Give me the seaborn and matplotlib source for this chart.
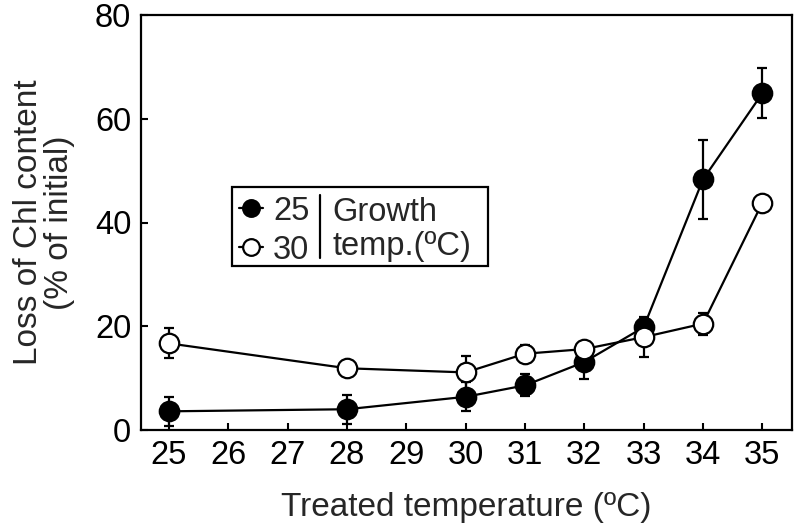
import matplotlib
matplotlib.use("Agg")
import matplotlib.pyplot as plt
import seaborn as sns
import pandas as pd
from matplotlib.lines import Line2D
from matplotlib.patches import Rectangle

# ---- data ----
temps = [25, 28, 30, 31, 32, 33, 34, 35]
growth25 = [3.6, 4.0, 6.4, 8.6, 13.1, 19.8, 48.3, 64.9]
growth25_err = [2.8, 2.8, 2.8, 2.1, 3.2, 1.0, 7.7, 4.8]
growth30 = [16.7, 11.9, 11.1, 14.7, 15.6, 17.9, 20.5, 43.8]
growth30_err = [2.9, 0.8, 3.1, 1.6, 1.4, 3.8, 2.1, 0.5]
xticks = list(range(25, 36))
series_labels = ["25", "30"]

sns.set_theme(style="ticks")
plt.rcParams["font.family"] = ["Liberation Sans", "DejaVu Sans"]

fig = plt.figure(figsize=(7.97, 5.29), dpi=100)
ax = fig.add_axes([141/797, 1-430/529, 651/797, 415/529])

df = pd.DataFrame({
    "temp": temps * 2,
    "loss": growth25 + growth30,
    "err": growth25_err + growth30_err,
    "growth": [series_labels[0]] * len(temps) + [series_labels[1]] * len(temps),
})

face = {"25": "black", "30": "white"}
for g in series_labels:
    sub = df[df["growth"] == g]
    ax.errorbar(sub["temp"], sub["loss"], yerr=sub["err"], fmt="none",
                ecolor="black", elinewidth=1.6, capsize=3.8, capthick=1.6, zorder=2)
    sns.lineplot(data=sub, x="temp", y="loss", ax=ax, color="black",
                 linewidth=1.6, marker="o", markersize=14,
                 markerfacecolor=face[g], markeredgecolor="black",
                 markeredgewidth=1.6, zorder=3, legend=False)

ax.set_xlim(24.53, 35.5)
ax.set_ylim(0, 80)
ax.set_xticks(xticks)
ax.set_yticks([0, 20, 40, 60, 80])
ax.tick_params(direction="in", length=5, width=1.5, labelsize=23.5, pad=7, colors="black")
for side in ["top", "right", "left", "bottom"]:
    ax.spines[side].set_visible(True)
    ax.spines[side].set_linewidth(1.6)
    ax.spines[side].set_color("black")

ax.set_xlabel("Treated temperature (ºC)", fontsize=24, labelpad=15)
ax.set_ylabel("Loss of Chl content\n(% of initial)", fontsize=24, labelpad=14,
              linespacing=1.0)

# legend
handles = [
    Line2D([], [], color="black", lw=1.6, marker="o", markersize=12,
           markerfacecolor="black", markeredgecolor="black", markeredgewidth=1.6),
    Line2D([], [], color="black", lw=1.6, marker="o", markersize=12,
           markerfacecolor="white", markeredgecolor="black", markeredgewidth=1.6),
]
leg = ax.legend(handles, series_labels, loc="center left",
                bbox_to_anchor=(0.150, 0.48), frameon=False, fontsize=23.5,
                handlelength=0.75, handletextpad=0.3, labelspacing=0.25,
                borderpad=0, borderaxespad=0)
ax.add_patch(Rectangle((0.1398, 0.395), 0.533-0.1398, 0.5855-0.395,
                       transform=ax.transAxes, fill=False, lw=1.6,
                       edgecolor="black", zorder=5))
ax.plot([0.275, 0.275], [0.414, 0.566], transform=ax.transAxes,
        color="black", lw=1.6)
ax.text(0.2934, 0.483, "Growth\ntemp.(ºC)", transform=ax.transAxes,
        ha="left", va="center", fontsize=23.5, linespacing=1.1)

fig.savefig("out.png", dpi=100)
